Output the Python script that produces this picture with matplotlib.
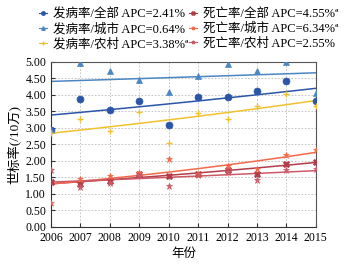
import numpy as np
import matplotlib
matplotlib.use('Agg')
import matplotlib.pyplot as plt
from matplotlib.lines import Line2D

plt.rcParams['font.family'] = ['Liberation Serif', 'Noto Sans CJK SC']

years = np.arange(2006, 2016)

# incidence (per 100k)
inc_all = [2.93, 3.89, 3.55, 3.82, 3.10, 3.95, 3.93, 4.12, 4.43, 3.82]
inc_city = [2.95, 4.97, 4.72, 4.45, 4.10, 4.58, 4.95, 4.73, 4.99, 4.05]
inc_rural = [2.86, 3.28, 2.92, 3.48, 2.53, 3.45, 3.26, 3.67, 4.04, 3.65]

# mortality (per 100k)
mort_all = [1.35, 1.30, 1.38, 1.60, 1.53, 1.60, 1.72, 1.59, 1.92, 1.97]
mort_city = [0.74, 1.45, 1.53, 1.62, 2.06, 1.61, 1.84, 1.76, 2.19, 2.32]
mort_rural = [1.72, 1.22, 1.33, 1.58, 1.25, 1.58, 1.67, 1.43, 1.74, 1.75]

# trend lines: value in 2006 and annual percent change
trend_start = [3.39, 4.41, 2.84, 1.31, 1.30, 1.36]
apc = [2.41, 0.64, 3.38, 4.55, 6.34, 2.55]

labels = ['发病率/全部 APC=2.41%', '发病率/城市 APC=0.64%', '发病率/农村 APC=3.38%ª',
          '死亡率/全部 APC=4.55%ª', '死亡率/城市 APC=6.34%ª', '死亡率/农村 APC=2.55%']

series = [inc_all, inc_city, inc_rural, mort_all, mort_city, mort_rural]
colors = ['#2b56a8', '#4a86c2', '#f2c12e', '#b23c48', '#f2694a', '#cc5a66']
markers = ['o', '^', '+', 'X', '*', '*']
msizes = [5, 4.5, 5, 4.5, 5, 4.5]

fig = plt.figure(figsize=(3.53, 2.67), dpi=100)
ax = fig.add_axes([0.1445, 0.15, 0.75, 0.618])

handles = []
for i in range(6):
    ax.plot(years, series[i], linestyle='none', marker=markers[i], color=colors[i],
            markersize=msizes[i], markeredgewidth=1 if markers[i] == '+' else 0.5, zorder=3)
    trend = trend_start[i] * (1 + apc[i] / 100) ** (years - 2006)
    ax.plot(years, trend, color=colors[i], linewidth=1.1, zorder=2)
    handles.append(Line2D([], [], color=colors[i], marker=markers[i], markersize=2.5,
                          linewidth=0.8))

ax.set_xlim(2006, 2015)
ax.set_ylim(0, 5)
ax.set_xticks(years)
ax.set_yticks(np.arange(0, 5.01, 0.5))
ax.set_yticklabels(['%.2f' % v for v in np.arange(0, 5.01, 0.5)])
ax.tick_params(direction='in', labelsize=8.5, length=3, colors='#333333', labelcolor='black')
ax.grid(True, color='#bbbbbb', linestyle=(0, (2, 2)), linewidth=0.6)
for s in ['left', 'bottom']:
    ax.spines[s].set_color('#333333')
for s in ['top', 'right']:
    ax.spines[s].set_color('#555555')

ax.set_xlabel('年份', fontsize=9, labelpad=3)
ax.set_ylabel('世标率(/10万)', fontsize=9.5, labelpad=3)

fig.legend(handles, labels, ncol=2, loc='upper center', bbox_to_anchor=(0.535, 1.012),
           frameon=False, fontsize=9, handlelength=0.6, handletextpad=0.5,
           columnspacing=0.05, labelspacing=0.2)

fig.savefig('out.png', dpi=100, facecolor='white')
